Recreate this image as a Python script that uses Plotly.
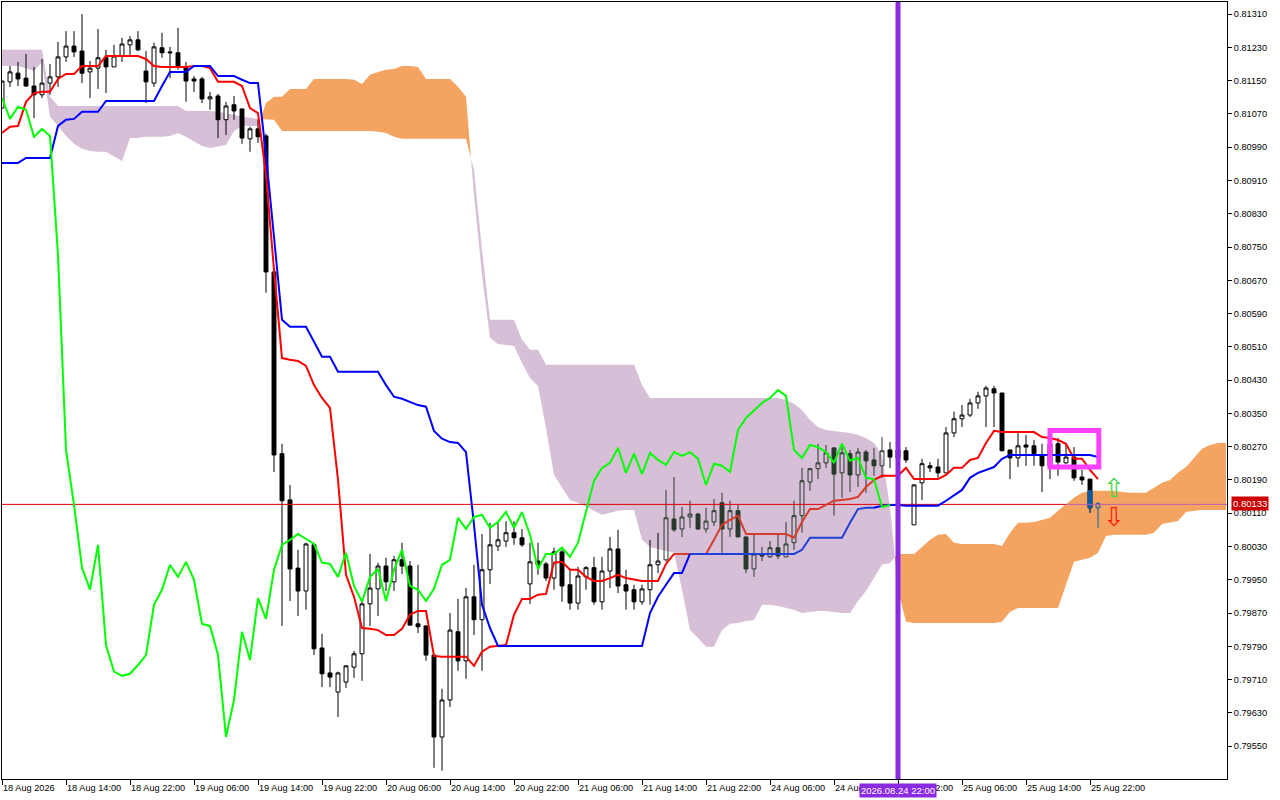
import numpy as np
import plotly.graph_objects as go

SCALE = 1e5
# candle data in points (price x 1e5), hourly bars
open_pts = [
81084,81147,81168,81156,81137,81116,81144,81159,81207,81233,
81221,81171,81180,81205,81183,81209,81236,81248,81173,81144,
81229,81219,81217,81183,81154,81154,81106,81113,81056,81092,
81082,81010,81034,81017,80690,80253,80142,79978,79923,80034,
79786,79726,79680,79704,79740,79772,79892,79928,79983,79945,
79998,79983,79844,79839,79769,79572,79661,79825,79755,79909,
79854,79974,80031,80043,80063,80051,79940,79995,79988,79954,
80017,79938,79894,79957,79979,79897,79971,80024,79938,79926,
79897,79926,79986,79998,80096,80072,80101,80108,80072,80089,
80135,80072,80116,80053,79976,80010,80005,80027,80005,80039,
80104,80185,80217,80231,80267,80207,80253,80202,80257,80238,
80224,80262,80262,80260,80082,80183,80224,80221,80207,80303,
80337,80346,80375,80392,80409,80399,80262,80243,80274,80272,
80250,80224,80277,80231,80245,80197,80192,80123]
high_pts = [
81149,81185,81195,81214,81183,81202,81190,81243,81269,81269,
81310,81197,81274,81224,81236,81253,81257,81269,81221,81241,
81265,81231,81277,81195,81161,81159,81123,81118,81099,81113,
81082,81039,81056,81022,80695,80277,80178,80022,80039,80039,
79820,79765,79729,79745,79779,79902,80012,79991,80003,80007,
80039,79995,79986,79841,79769,79688,79870,79904,79930,79986,
80060,80087,80087,80091,80091,80072,80039,80039,79993,80027,
80022,79974,79981,79983,80005,80005,80053,80070,79974,79938,
79938,80046,80063,80166,80197,80125,80140,80111,80123,80144,
80159,80140,80132,80053,80058,80029,80043,80058,80089,80140,
80219,80219,80277,80274,80269,80277,80262,80267,80262,80267,
80293,80281,80269,80269,80180,80241,80233,80241,80317,80354,
80370,80385,80402,80416,80416,80399,80262,80303,80298,80286,
80277,80291,80291,80274,80269,80214,80192,80137]
low_pts = [
81084,81135,81137,81135,81060,81108,81116,81135,81195,81207,
81144,81108,81130,81120,81183,81195,81209,81221,81096,81135,
81205,81156,81176,81099,81123,81096,81080,81012,81019,81056,
80998,80979,81000,80640,80209,79839,79899,79863,79878,79769,
79692,79692,79620,79690,79714,79707,79839,79863,79923,79923,
79964,79839,79822,79755,79498,79491,79644,79731,79712,79817,
79731,79940,80019,80029,80034,80029,79892,79962,79947,79926,
79897,79878,79878,79926,79890,79878,79930,79918,79878,79878,
79890,79890,79966,79993,80065,80053,80075,80070,80063,80079,
80015,80053,80053,79966,79957,79995,80003,80000,80005,80022,
80063,80164,80192,80219,80104,80147,80161,80173,80159,80200,
80195,80219,80233,80231,80082,80142,80209,80195,80207,80293,
80317,80341,80361,80317,80317,80260,80192,80221,80224,80224,
80161,80192,80200,80229,80188,80178,80111,80075]
close_pts = [
81149,81171,81154,81137,81116,81144,81159,81207,81233,81219,
81168,81180,81205,81183,81209,81238,81248,81224,81147,81231,
81217,81217,81185,81149,81149,81106,81111,81056,81089,81077,
81012,81034,81015,80690,80250,80140,79976,79923,80036,79784,
79724,79716,79726,79743,79772,79892,79930,79983,79945,79998,
79983,79841,79837,79769,79572,79661,79829,79755,79909,79854,
79974,80034,80046,80063,80051,80034,79993,79986,79954,80017,
79935,79894,79959,79979,79897,79971,80024,79935,79923,79897,
79928,79986,79995,80099,80070,80101,80108,80072,80091,80116,
80072,80116,80053,79976,80012,80007,80027,80007,80036,80104,
80188,80217,80231,80255,80204,80255,80202,80257,80236,80224,
80260,80245,80243,80238,80178,80229,80219,80207,80303,80337,
80346,80375,80392,80411,80399,80260,80243,80272,80269,80253,
80224,80277,80233,80245,80195,80190,80123,80133]

tenkan_pts = [
81024,81039,81041,81099,81120,81123,81123,81154,81166,81166,
81185,81185,81185,81209,81209,81209,81209,81209,81202,81185,
81183,81183,81183,81183,81185,81185,81180,81147,81147,81147,
81137,81084,81072,80923,80695,80483,80479,80476,80464,80418,
80387,80363,80190,79962,79909,79834,79832,79829,79817,79817,
79832,79866,79875,79875,79767,79765,79765,79765,79765,79743,
79777,79789,79791,79793,79866,79904,79904,79914,79916,79991,
79993,79974,79974,79957,79947,79947,79954,79962,79954,79950,
79947,79947,79947,79988,80012,80012,80012,80012,80012,80046,
80082,80094,80104,80060,80060,80060,80060,80060,80060,80051,
80089,80120,80120,80130,80140,80142,80144,80149,80173,80190,
80200,80200,80200,80219,80192,80192,80192,80192,80202,80219,
80219,80238,80243,80279,80308,80305,80305,80305,80305,80305,
80293,80291,80286,80277,80241,80241,80214,80192]
kijun_pts = [
80952,80952,80952,80964,80964,80964,80964,81041,81056,81058,
81075,81075,81075,81101,81101,81101,81101,81101,81101,81101,
81137,81171,81171,81171,81185,81185,81185,81161,81161,81161,
81152,81144,81144,80971,80774,80575,80558,80558,80558,80522,
80486,80486,80450,80450,80450,80450,80450,80450,80418,80390,
80385,80378,80370,80366,80308,80289,80281,80279,80257,80082,
79890,79834,79791,79791,79791,79791,79791,79791,79791,79791,
79791,79791,79791,79791,79791,79791,79791,79791,79791,79791,
79791,79870,79909,79938,79966,79966,80012,80012,80012,80012,
80012,80012,80012,80012,80012,80012,80012,80012,80012,80012,
80022,80051,80051,80051,80051,80051,80087,80120,80123,80123,
80128,80130,80130,80128,80128,80128,80128,80128,80140,80154,
80166,80195,80207,80214,80221,80241,80250,80250,80250,80250,
80250,80250,80250,80250,80250,80250,80250,80245]
chikou_pts = [
81108,81058,81087,81080,81015,81034,81017,80731,80262,80130,
79979,79926,80034,79793,79729,79719,79724,79745,79769,79890,
79926,79986,79957,79993,79950,79844,79839,79769,79572,79661,
79825,79757,79906,79856,79974,80034,80046,80060,80048,80036,
79991,79988,79957,80015,79935,79897,79957,79976,79899,79974,
80022,79935,79926,79899,79928,79986,79998,80099,80072,80101,
80106,80075,80089,80113,80075,80113,80058,79976,80012,80012,
80027,80005,80039,80113,80188,80219,80231,80267,80207,80253,
80204,80255,80238,80226,80257,80248,80257,80241,80178,80229,
80224,80209,80310,80339,80356,80375,80387,80406,80392,80262,
80243,80274,80269,80257,80231,80277,80236,80243,80195,80192,
80125,80130]
senkou_a_pts = [
81185,81185,81185,81180,81173,81195,81063,81041,81017,80998,
80986,80981,80979,80979,80967,80957,81012,81012,81015,81015,
81015,81017,81024,81015,81003,80993,80988,80991,80995,81029,
81041,81041,81041,
81096,81111,81111,81130,81130,81130,81154,81154,81154,81154,
81154,81152,81142,81164,81171,81176,81178,81185,81185,81183,
81154,81154,81154,81154,81135,81111,
80875,80683,80531,80517,80515,80512,80471,80435,80416,80315,
80202,80171,80142,80135,80125,80116,80106,80111,80116,80118,
80118,80046,80029,80024,80019,80015,79926,79829,79810,79789,
79789,79829,79844,79846,79851,79853,79890,79890,79887,79882,
79878,79870,79873,79875,79875,79873,79870,79870,79899,79923,
79954,79986,79990,
80012,80012,80012,80029,80046,80058,80060,80039,80036,80036,
80036,80036,80036,80031,80063,80087,80087,80089,80094,80099,
80116,80132,80147,80159,80164,80164,80164,80164,80161,80159,
80159,80159,80171,80183,80190,80207,80221,80243,80265,80274,
80279,80279]
senkou_b_pts = [
81224,81224,81224,81224,81224,81224,81111,81089,81089,81089,
81089,81089,81089,81089,81089,81089,81089,81089,81089,81089,
81089,81089,81089,81077,81077,81077,81077,81075,81072,81068,
81063,81060,81058,
81056,81056,81029,81029,81029,81029,81029,81029,81029,81029,
81029,81029,81029,81029,81027,81024,81015,81010,81010,81010,
81010,81010,81010,81010,81010,81010,
80935,80743,80575,80575,80575,80575,80527,80503,80503,80467,
80467,80467,80467,80467,80467,80467,80467,80467,80467,80467,
80467,80418,80387,80387,80387,80387,80387,80387,80387,80387,
80387,80387,80387,80387,80387,80387,80387,80387,80387,80382,
80373,80358,80334,80317,80310,80308,80305,80303,80298,80291,
80279,80250,80125,
79926,79849,79846,79846,79846,79846,79846,79846,79846,79846,
79846,79846,79846,79849,79873,79882,79882,79882,79882,79882,
79882,79938,79993,79998,80003,80015,80055,80058,80058,80058,
80058,80058,80063,80084,80087,80091,80113,80116,80118,80118,
80118,80118]

x_labels = ["18 Aug 2026","18 Aug 14:00","18 Aug 22:00","19 Aug 06:00","19 Aug 14:00","19 Aug 22:00",
            "20 Aug 06:00","20 Aug 14:00","20 Aug 22:00","21 Aug 06:00","21 Aug 14:00","21 Aug 22:00",
            "24 Aug 06:00","24 Aug 14:00","24 Aug 22:00","25 Aug 06:00","25 Aug 14:00","25 Aug 22:00"]
x_label_bars = list(range(0, 137, 8))
last_price = 0.80133
last_price_row = 0.801312   # pixel-row centre of the price line
event_bar = 112
event_label = "2026.08.24 22:00"
box_bars = [131, 137.1]
box_prices = [0.80221, 0.80309]
signal_bar = 139.0
signal_up = 0.80165
signal_down = 0.80094
cloud_tint = (83, 110)      # candles tinted where they sit inside the lilac cloud
orange_tint = 136

X_RANGE = [0, 153.125]
Y_RANGE = [0.79471, 0.81339]

ORANGE, LILAC = "#F4A460", "#D8BFD8"
DARK = "#26392A"
TEXT_FONT = dict(family="Liberation Sans", size=9.2, color="#000000")


def arr(v):
    return np.array(v, dtype=float) / SCALE


o, h, l, c = map(arr, (open_pts, high_pts, low_pts, close_pts))
bars = np.arange(len(o))
fig = go.Figure()

# ---- Ichimoku cloud (base axes, under every candle) ----
sa, sb = arr(senkou_a_pts), arr(senkou_b_pts)
run_x, run_a, run_b = [0.0], [sa[0]], [sb[0]]


def flush(x, a, b):
    bull = np.mean(a) > np.mean(b)
    fig.add_trace(go.Scatter(x=x + x[::-1], y=a + b[::-1], mode="lines", fill="toself",
                             fillcolor=ORANGE if bull else LILAC, line=dict(width=0),
                             hoverinfo="skip", showlegend=False))


for i in range(1, len(sa)):
    d0, d1 = sa[i - 1] - sb[i - 1], sa[i] - sb[i]
    if d0 * d1 < 0:
        t = d0 / (d0 - d1)
        xc = i - 1 + t
        yc = sa[i - 1] + t * (sa[i] - sa[i - 1])
        run_x.append(xc); run_a.append(yc); run_b.append(yc)
        flush(run_x, run_a, run_b)
        run_x, run_a, run_b = [xc], [yc], [yc]
    run_x.append(float(i)); run_a.append(sa[i]); run_b.append(sb[i])
flush(run_x, run_a, run_b)


# ---- candles (overlay axes, above the cloud) ----
def candles(idx, up_line, up_fill, dn_line, dn_fill, oo=None, hh=None, ll=None, cc=None):
    fig.add_trace(go.Candlestick(
        x=idx, open=o[idx] if oo is None else oo, high=h[idx] if hh is None else hh,
        low=l[idx] if ll is None else ll, close=c[idx] if cc is None else cc,
        whiskerwidth=0, hoverinfo="skip", showlegend=False, xaxis="x2", yaxis="y2",
        increasing=dict(line=dict(color=up_line, width=1), fillcolor=up_fill),
        decreasing=dict(line=dict(color=dn_line, width=1), fillcolor=dn_fill)))


a0, a1 = cloud_tint
plain = np.r_[0:a0, a1 + 1:len(o) - 1]
candles(plain, "#000000", "#FFFFFF", "#000000", "#000000")
candles(np.arange(a0, a1 + 1), DARK, "rgba(0,0,0,0)", DARK, DARK)
# the two last bars turn blue where they overlap the orange cloud
tail = np.array([orange_tint, orange_tint + 1])
tail_open = o[tail].copy(); tail_high = h[tail].copy()
tail_open[0] = 0.80164; tail_high[0] = 0.80164
candles(tail, "#0A5CA8", "rgba(0,0,0,0)", "#0A5CA8", "#0A5CA8", tail_open, tail_high)


# ---- lines ----
def line(x, y, color):
    fig.add_trace(go.Scatter(x=x, y=y, mode="lines", line=dict(color=color, width=2),
                             hoverinfo="skip", showlegend=False, xaxis="x2", yaxis="y2"))


# price line
fig.add_trace(go.Scatter(x=[X_RANGE[0], 133], y=[last_price_row, last_price_row], mode="lines",
                         line=dict(color="#E00000", width=1), hoverinfo="skip", showlegend=False,
                         xaxis="x2", yaxis="y2"))
fig.add_trace(go.Scatter(x=[133, X_RANGE[1]], y=[last_price_row, last_price_row], mode="lines",
                         line=dict(color="#BE5FB0", width=1), hoverinfo="skip", showlegend=False,
                         xaxis="x2", yaxis="y2"))

tk, kj, ck = arr(tenkan_pts), arr(kijun_pts), arr(chikou_pts)
line(bars[:85], tk[:85], "#FF0000")
line(bars[84:110], tk[84:110], "#D63C2A")
line(bars[109:], tk[109:], "#FF0000")
line(bars[:87], kj[:87], "#0000FF")
line(bars[86:110], kj[86:110], "#2040D8")
line(bars[109:], kj[109:], "#0000FF")
line(np.arange(len(ck)), ck, "#00FF00")

# ---- signal arrows ----
fig.add_trace(go.Scatter(x=[signal_bar], y=[signal_up], mode="text", text=["\u21e7"],
                         textposition="middle center",
                         textfont=dict(family="DejaVu Sans", size=26, color="#3FD83F"),
                         hoverinfo="skip", showlegend=False, xaxis="x2", yaxis="y2"))
fig.add_trace(go.Scatter(x=[signal_bar], y=[signal_down], mode="text", text=["\u21e9"],
                         textposition="middle center",
                         textfont=dict(family="DejaVu Sans", size=26, color="#FF2010"),
                         hoverinfo="skip", showlegend=False, xaxis="x2", yaxis="y2"))

fig.update_layout(
    template="none",
    width=1280, height=800, margin=dict(l=2, r=53, t=2, b=21),
    paper_bgcolor="#FFFFFF", plot_bgcolor="#FFFFFF", showlegend=False, boxgap=0.3,
    xaxis=dict(range=X_RANGE, tickmode="array", tickvals=x_label_bars, ticktext=x_labels, tickangle=0,
               ticks="outside", ticklen=5, tickcolor="#000000", tickwidth=1, automargin=False,
               ticklabelposition="outside right", tickfont=TEXT_FONT, showgrid=False, zeroline=False,
               showline=True, linecolor="#000000", linewidth=1, mirror=True,
               rangeslider=dict(visible=False)),
    yaxis=dict(range=Y_RANGE, side="right", tick0=0.8131, dtick=0.0008, tickformat=".5f",
               ticks="outside", ticklen=4, tickcolor="#000000", tickwidth=1, tickfont=TEXT_FONT,
               showgrid=False, zeroline=False, showline=True, linecolor="#000000", linewidth=1,
               mirror=True, automargin=False),
    xaxis2=dict(range=X_RANGE, overlaying="x", anchor="y2", visible=False,
                rangeslider=dict(visible=False)),
    yaxis2=dict(range=Y_RANGE, overlaying="y", anchor="x2", side="right", visible=False),
    shapes=[
        dict(type="line", xref="x", yref="paper", x0=event_bar, x1=event_bar, y0=0, y1=1,
             line=dict(color="#8A2BE2", width=5), layer="above"),
        dict(type="rect", xref="x", yref="y", x0=box_bars[0], x1=box_bars[1],
             y0=box_prices[0], y1=box_prices[1], line=dict(color="#FF40FF", width=5),
             fillcolor="rgba(0,0,0,0)", layer="above"),
    ],
    annotations=[
        dict(xref="x", yref="paper", x=event_bar, y=0, yanchor="top", yshift=-4, xanchor="center",
             text=event_label, showarrow=False, bgcolor="#8A2BE2", borderpad=1,
             font=dict(family="Liberation Sans", size=9.5, color="#FFFFFF")),
        dict(xref="paper", yref="y", x=1, xshift=4, y=last_price, xanchor="left", yanchor="middle",
             text=f"{last_price:.5f}", showarrow=False, bgcolor="#CC0000", borderpad=1,
             font=dict(family="Liberation Sans", size=9.5, color="#FFFFFF")),
    ],
)

fig.write_html("out.html", config=dict(displayModeBar=False),
               post_script="document.body.style.margin='0';document.body.style.overflow='hidden';")
